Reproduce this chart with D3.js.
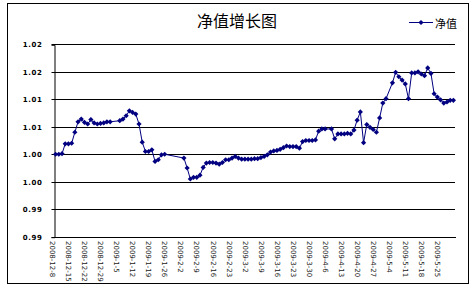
<!DOCTYPE html>
<html>
<head>
<meta charset="utf-8">
<script src="https://cdn.jsdelivr.net/npm/d3@7"></script>
<style>
  body { margin: 0; background: #fff; }
  svg { display: block; }
</style>
</head>
<body>
<svg id="chart" width="476" height="290"></svg>
<script>
"use strict";

// jours ouvrés (lundi-vendredi), fériés = null
var dates = [
  "2008-12-8","2008-12-9","2008-12-10","2008-12-11","2008-12-12",
  "2008-12-15","2008-12-16","2008-12-17","2008-12-18","2008-12-19",
  "2008-12-22","2008-12-23","2008-12-24","2008-12-25","2008-12-26",
  "2008-12-29","2008-12-30","2008-12-31","2009-1-1","2009-1-2",
  "2009-1-5","2009-1-6","2009-1-7","2009-1-8","2009-1-9",
  "2009-1-12","2009-1-13","2009-1-14","2009-1-15","2009-1-16",
  "2009-1-19","2009-1-20","2009-1-21","2009-1-22","2009-1-23",
  "2009-1-26","2009-1-27","2009-1-28","2009-1-29","2009-1-30",
  "2009-2-2","2009-2-3","2009-2-4","2009-2-5","2009-2-6",
  "2009-2-9","2009-2-10","2009-2-11","2009-2-12","2009-2-13",
  "2009-2-16","2009-2-17","2009-2-18","2009-2-19","2009-2-20",
  "2009-2-23","2009-2-24","2009-2-25","2009-2-26","2009-2-27",
  "2009-3-2","2009-3-3","2009-3-4","2009-3-5","2009-3-6",
  "2009-3-9","2009-3-10","2009-3-11","2009-3-12","2009-3-13",
  "2009-3-16","2009-3-17","2009-3-18","2009-3-19","2009-3-20",
  "2009-3-23","2009-3-24","2009-3-25","2009-3-26","2009-3-27",
  "2009-3-30","2009-3-31","2009-4-1","2009-4-2","2009-4-3",
  "2009-4-6","2009-4-7","2009-4-8","2009-4-9","2009-4-10",
  "2009-4-13","2009-4-14","2009-4-15","2009-4-16","2009-4-17",
  "2009-4-20","2009-4-21","2009-4-22","2009-4-23","2009-4-24",
  "2009-4-27","2009-4-28","2009-4-29","2009-4-30","2009-5-1",
  "2009-5-4","2009-5-5","2009-5-6","2009-5-7","2009-5-8",
  "2009-5-11","2009-5-12","2009-5-13","2009-5-14","2009-5-15",
  "2009-5-18","2009-5-19","2009-5-20","2009-5-21","2009-5-22",
  "2009-5-25","2009-5-26","2009-5-27","2009-5-28","2009-5-29"
];

var nav = [
  1.0000, 1.0000, 1.0001, 1.0019, 1.0019,
  1.0020, 1.0040, 1.0059, 1.0064, 1.0058,
  1.0055, 1.0063, 1.0057, 1.0055, 1.0056,
  1.0057, 1.0059, 1.0059, null, null,
  1.0061, 1.0064, 1.0070, 1.0079, 1.0076,
  1.0073, 1.0055, 1.0022, 1.0005, 1.0005,
  1.0008, 0.9987, 0.9990, 0.9999, 1.0000,
  null, null, null, null, null,
  0.9993, 0.9975, 0.9955, 0.9958, 0.9958,
  0.9962, 0.9976, 0.9984, 0.9985, 0.9985,
  0.9984, 0.9982, 0.9985, 0.9990, 0.9990,
  0.9993, 0.9996, 0.9993, 0.9991, 0.9991,
  0.9991, 0.9991, 0.9992, 0.9992, 0.9994,
  0.9996, 0.9999, 1.0004, 1.0006, 1.0007,
  1.0009, 1.0012, 1.0015, 1.0014, 1.0014,
  1.0014, 1.0011, 1.0023, 1.0025, 1.0025,
  1.0025, 1.0026, 1.0042, 1.0046, 1.0046,
  null, 1.0046, 1.0028, 1.0037, 1.0037,
  1.0037, 1.0038, 1.0037, 1.0044, 1.0062,
  1.0077, 1.0021, 1.0054, 1.0049, 1.0045,
  1.0040, 1.0066, 1.0093, 1.0101, null,
  1.0130, 1.0149, 1.0141, 1.0135, 1.0128,
  1.0101, 1.0148, 1.0148, 1.0150, 1.0146,
  1.0143, 1.0157, 1.0147, 1.0110, 1.0104,
  1.0099, 1.0093, 1.0095, 1.0098, 1.0098
];

var xLabels = [
  "2008-12-8","2008-12-15","2008-12-22","2008-12-29","2009-1-5",
  "2009-1-12","2009-1-19","2009-1-26","2009-2-2","2009-2-9",
  "2009-2-16","2009-2-23","2009-3-2","2009-3-9","2009-3-16",
  "2009-3-23","2009-3-30","2009-4-6","2009-4-13","2009-4-20",
  "2009-4-27","2009-5-4","2009-5-11","2009-5-18","2009-5-25"
];

var yTicks = [0.985, 0.99, 0.995, 1.0, 1.005, 1.01, 1.015, 1.02];
var yTickText = ["0.99", "0.99", "1.00", "1.00", "1.01", "1.01", "1.02", "1.02"];

var title = "净值增长图";
var seriesName = "净值";

var svg = d3.select("#chart");
var lineColor = "#000080";

// cadre extérieur
svg.append("rect")
  .attr("x", 7.5).attr("y", 3.5)
  .attr("width", 461).attr("height", 280)
  .attr("fill", "#fff")
  .attr("stroke", "#000")
  .attr("stroke-width", 1);

var plot = { left: 54, right: 455, top: 44.3, bottom: 236.7 };

var x = d3.scalePoint()
  .domain(dates)
  .range([plot.left, plot.right])
  .padding(0.5);

var y = d3.scaleLinear()
  .domain([0.985, 1.02])
  .range([plot.bottom, plot.top]);

// titre
svg.append("text")
  .attr("x", 237).attr("y", 27)
  .attr("text-anchor", "middle")
  .style("font-family", "'Noto Sans CJK SC', sans-serif")
  .style("font-size", "16px")
  .attr("fill", "#000")
  .text(title);

// quadrillage horizontal
var grid = svg.append("g").attr("class", "grid");
grid.selectAll("line")
  .data(yTicks.slice(1))
  .enter()
  .append("line")
  .attr("x1", plot.left)
  .attr("x2", plot.right)
  .attr("y1", function (d) { return Math.round(y(d)) + 0.5; })
  .attr("y2", function (d) { return Math.round(y(d)) + 0.5; })
  .attr("stroke", "#000")
  .attr("stroke-width", 1);

// axe Y
var yAxis = svg.append("g")
  .attr("transform", "translate(" + (plot.left + 0.5) + ",0.5)")
  .call(d3.axisLeft(y)
    .tickValues(yTicks)
    .tickSize(3)
    .tickPadding(9)
    .tickFormat(function (d, i) { return yTickText[i]; }));
yAxis.select(".domain").attr("stroke", "#000");
yAxis.selectAll(".tick line").attr("stroke", "#000");
yAxis.selectAll(".tick text")
  .attr("fill", "#000")
  .style("font-family", "'DejaVu Sans', sans-serif")
  .style("font-size", "7px")
  .style("font-weight", "bold")
  .style("letter-spacing", "0.6px");
yAxis.selectAll(".tick").attr("transform", function (d) {
  return "translate(0," + Math.round(y(d)) + ")";
});

// axe X
svg.append("line")
  .attr("x1", plot.left).attr("x2", plot.right + 1)
  .attr("y1", Math.round(plot.bottom) + 0.5)
  .attr("y2", Math.round(plot.bottom) + 0.5)
  .attr("stroke", "#000");

svg.append("g")
  .selectAll("text")
  .data(xLabels)
  .enter()
  .append("text")
  .attr("transform", function (d) {
    return "translate(" + (x(d) - 3.5) + ",241) rotate(90)";
  })
  .attr("dominant-baseline", "central")
  .style("font-family", "'DejaVu Sans', sans-serif")
  .style("font-size", "7px")
  .attr("fill", "#222")
  .text(function (d) { return d; });

// série
var points = dates.map(function (d, i) { return { date: d, value: nav[i] }; })
  .filter(function (d) { return d.value !== null; });

var line = d3.line()
  .x(function (d) { return x(d.date); })
  .y(function (d) { return y(d.value); });

svg.append("path")
  .datum(points)
  .attr("d", line)
  .attr("fill", "none")
  .attr("stroke", lineColor)
  .attr("stroke-width", 1);

var diamond = "M0,-2.6L2.6,0L0,2.6L-2.6,0Z";

svg.append("g")
  .selectAll("path")
  .data(points)
  .enter()
  .append("path")
  .attr("d", diamond)
  .attr("transform", function (d) {
    return "translate(" + x(d.date) + "," + y(d.value) + ")";
  })
  .attr("fill", lineColor);

// légende
var legend = svg.append("g").attr("transform", "translate(409,22.5)");
legend.append("line")
  .attr("x1", 0).attr("x2", 24)
  .attr("stroke", lineColor);
legend.append("path")
  .attr("d", diamond)
  .attr("transform", "translate(12,0)")
  .attr("fill", lineColor);
legend.append("text")
  .attr("x", 26).attr("y", 0)
  .attr("dominant-baseline", "central")
  .style("font-family", "'Noto Sans CJK SC', sans-serif")
  .style("font-size", "11px")
  .attr("fill", "#000")
  .text(seriesName);
</script>
</body>
</html>
